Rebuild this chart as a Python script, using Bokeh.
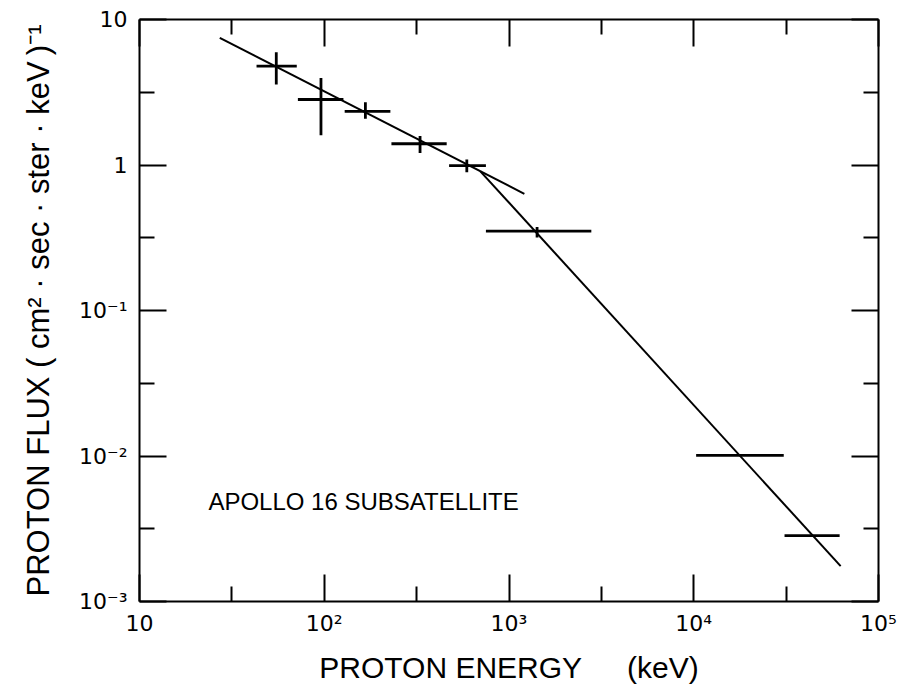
from bokeh.plotting import figure
from bokeh.models import FixedTicker, LogAxis, Label, ColumnDataSource
from bokeh.embed import file_html
from bokeh.resources import INLINE

# ---- data ----
energy = [55, 96, 167, 330, 591, 1419, 18600, 43700]          # keV
energy_lo = [43, 72, 129, 231, 474, 750, 10300, 31000]
energy_hi = [71, 127, 228, 460, 750, 2790, 30700, 61600]
flux = [4.78, 2.82, 2.34, 1.40, 0.99, 0.351, 0.0101, 0.00284]
flux_lo = [3.57, 1.60, 2.08, 1.21, 0.89, 0.318, 0.0101, 0.00284]
flux_hi = [5.96, 3.97, 2.70, 1.58, 1.09, 0.375, 0.0101, 0.00284]

fit_low_energy = [27.2, 1211]
fit_low_flux = [7.48, 0.634]
fit_high_energy = [700, 62400]
fit_high_flux = [0.905, 0.00175]

x_major = [10, 100, 1000, 10000, 100000]
x_minor = [31.6, 316, 3162, 31623]
x_labels = {10: "10", 100: "10²", 1000: "10³", 10000: "10⁴", 100000: "10⁵"}
y_major = [0.001, 0.01, 0.1, 1, 10]
y_minor = [0.00316, 0.0316, 0.316, 3.16]
y_labels = {0.001: "10⁻³", 0.01: "10⁻²", 0.1: "10⁻¹", 1: "1", 10: "10"}

FONT = "Liberation Sans"
TICK_FONT = "DejaVu Sans"

p = figure(width=901, height=688, x_axis_type="log", y_axis_type="log",
           x_range=(10, 1e5), y_range=(1e-3, 10),
           output_backend="svg", toolbar_location=None,
           min_border_left=139, min_border_right=23,
           min_border_top=19, min_border_bottom=87)
p.grid.visible = False
p.outline_line_color = None
p.background_fill_color = "white"
p.border_fill_color = "white"

def style_axis(ax, ticker, labels=None):
    ax.ticker = ticker
    ax.axis_line_color = "black"
    ax.axis_line_width = 2
    ax.major_tick_in = 27
    ax.major_tick_out = 0
    ax.minor_tick_in = 15
    ax.minor_tick_out = 0
    ax.major_tick_line_width = 2
    ax.minor_tick_line_width = 2
    ax.major_tick_line_color = "black"
    ax.minor_tick_line_color = "black"
    if labels is None:
        ax.major_label_text_font_size = "8px"
        ax.major_label_text_alpha = 0
        ax.major_label_standoff = 0
    else:
        ax.major_label_overrides = labels
        ax.major_label_text_font = TICK_FONT
        ax.major_label_text_font_size = "22px"
        ax.major_label_text_color = "black"

xt = FixedTicker(ticks=x_major, minor_ticks=x_minor)
yt = FixedTicker(ticks=y_major, minor_ticks=y_minor)

xa = p.xaxis[0]
style_axis(xa, xt, x_labels)
xa.major_label_standoff = 9
xa.axis_label = "PROTON ENERGY\u2003\u2002(keV)"
xa.axis_label_text_font = FONT
xa.axis_label_text_font_size = "30px"
xa.axis_label_text_font_style = "normal"
xa.axis_label_text_color = "black"
xa.axis_label_standoff = 12

ya = p.yaxis[0]
style_axis(ya, yt, y_labels)
ya.major_label_standoff = 12
ya.major_label_text_align = "center"
ya.axis_label = "PROTON FLUX ( cm² · sec · ster · keV\u2009)⁻¹"
ya.axis_label_text_font = FONT
ya.axis_label_text_font_size = "31px"
ya.axis_label_text_font_style = "normal"
ya.axis_label_text_color = "black"
ya.axis_label_standoff = 20

top = LogAxis()
style_axis(top, FixedTicker(ticks=x_major, minor_ticks=x_minor))
p.add_layout(top, "above")
right = LogAxis()
style_axis(right, FixedTicker(ticks=y_major, minor_ticks=y_minor))
p.add_layout(right, "right")

src = ColumnDataSource(dict(e=energy, elo=energy_lo, ehi=energy_hi,
                            f=flux, flo=flux_lo, fhi=flux_hi))

# fitted power laws
p.line(fit_low_energy, fit_low_flux, line_color="black", line_width=2)
p.line(fit_high_energy, fit_high_flux, line_color="black", line_width=2)

# error bars
p.segment(x0="elo", x1="ehi", y0="f", y1="f", source=src,
          line_color="black", line_width=2.8)
p.segment(x0="e", x1="e", y0="flo", y1="fhi", source=src,
          line_color="black", line_width=2.8)

p.add_layout(Label(x=23.6, y=0.0049, text="APOLLO 16 SUBSATELLITE",
                   text_font=FONT, text_font_size="24px",
                   text_color="black", text_baseline="alphabetic"))

open("out.html", "w").write(file_html(p, INLINE))
